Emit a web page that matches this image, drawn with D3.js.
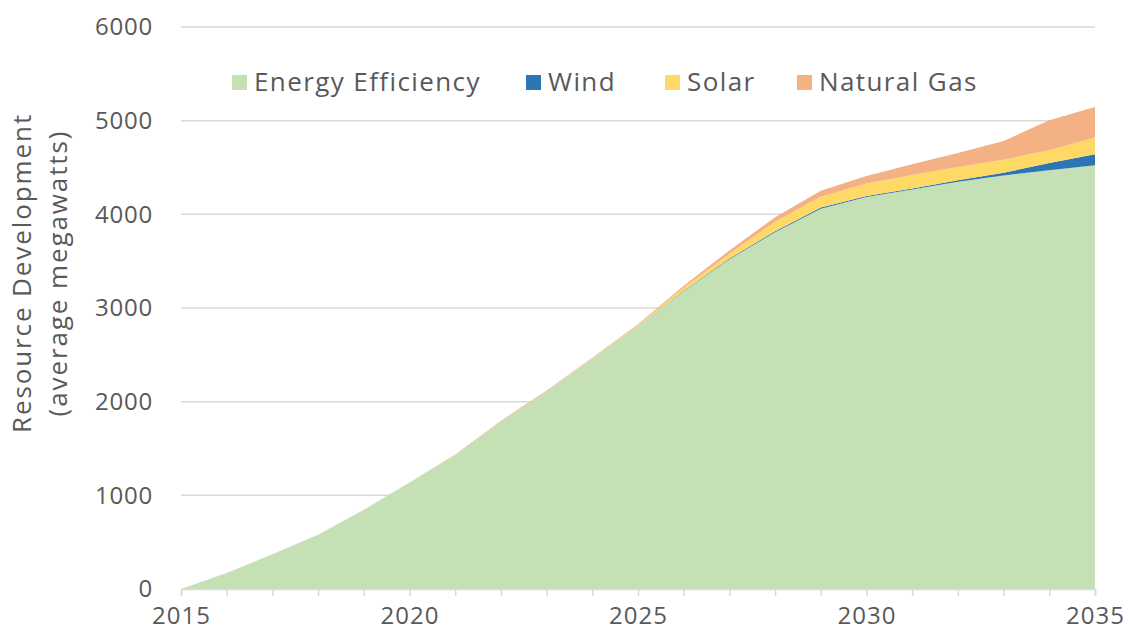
<!DOCTYPE html>
<html>
<head>
<meta charset="utf-8">
<script src="https://cdn.jsdelivr.net/npm/d3@7"></script>
<style>
  body { margin: 0; background: #fff; }
  svg text { font-family: "Open Sans", sans-serif; fill: #595959; }
</style>
</head>
<body>
<svg id="chart" width="1128" height="637"></svg>
<script>
// values (average MW, cumulative)
var years = d3.range(2015, 2036);
var efficiency = [0, 171, 370, 578, 845, 1137, 1432, 1790, 2110, 2458, 2810, 3180, 3520, 3810, 4060, 4185, 4265, 4348, 4415, 4470, 4525];
var wind       = [0, 0, 0, 0, 0, 0, 0, 0, 0, 0, 0, 3, 8, 10, 12, 10, 10, 16, 29, 78, 117];
var solar      = [0, 0, 0, 0, 0, 0, 0, 0, 0, 2, 5, 35, 50, 100, 115, 135, 145, 142, 140, 137, 178];
var gas        = [0, 0, 0, 0, 0, 0, 3, 6, 8, 10, 12, 20, 36, 50, 64, 78, 115, 150, 199, 320, 327];

var seriesNames = ["Energy Efficiency", "Wind", "Solar", "Natural Gas"];
var colors = ["#c5e0b4", "#2e75b6", "#ffd966", "#f4b183"];
var yTicks = [0, 1000, 2000, 3000, 4000, 5000, 6000];
var xLabels = [2015, 2020, 2025, 2030, 2035];

var table = years.map(function(y, i) {
  return { year: y, "Energy Efficiency": efficiency[i], "Wind": wind[i], "Solar": solar[i], "Natural Gas": gas[i] };
});

var svg = d3.select("#chart");
var x = d3.scaleLinear().domain([2015, 2035]).range([181, 1095]);
var y = d3.scaleLinear().domain([0, 6000]).range([589, 27]);
var color = d3.scaleOrdinal().domain(seriesNames).range(colors);

// gridlines
svg.append("g").selectAll("line")
  .data(yTicks.slice(1))
  .enter().append("line")
  .attr("x1", x(2015)).attr("x2", x(2035))
  .attr("y1", d => y(d)).attr("y2", d => y(d))
  .attr("stroke", "#d9d9d9").attr("stroke-width", 1.5);

// stacked areas
var stack = d3.stack().keys(seriesNames);
var area = d3.area()
  .x(d => x(d.data.year))
  .y0(d => y(d[0]))
  .y1(d => y(d[1]));

svg.append("g").selectAll("path")
  .data(stack(table))
  .enter().append("path")
  .attr("d", area)
  .attr("fill", d => color(d.key));

// x axis
var xAxis = d3.axisBottom(x).tickValues(years).tickSize(7).tickFormat(d => xLabels.indexOf(d) >= 0 ? d : "");
var gx = svg.append("g").attr("transform", "translate(0," + y(0) + ")").call(xAxis);
gx.select(".domain").attr("stroke", "#d9d9d9").attr("stroke-width", 1.5);
gx.selectAll(".tick line").attr("stroke", "#d9d9d9").attr("stroke-width", 1.5);
gx.selectAll(".tick text").attr("dy", "1.05em").style("font-size", "24px")
  .style("letter-spacing", "1px").style("fill", "#595959").attr("font-family", null);

// y axis labels
svg.append("g").selectAll("text")
  .data(yTicks)
  .enter().append("text")
  .attr("x", 153).attr("y", d => y(d))
  .attr("dy", "0.35em")
  .attr("text-anchor", "end")
  .style("font-size", "24px")
  .style("letter-spacing", "0.8px")
  .text(d => d);

// y title
var yt = svg.append("text")
  .attr("transform", "translate(0,273) rotate(-90)")
  .attr("text-anchor", "middle")
  .style("font-size", "26px")
  .style("letter-spacing", "1.9px");
yt.append("tspan").attr("x", 0).attr("y", 31).text("Resource Development");
yt.append("tspan").attr("x", 0).attr("y", 67).text("(average megawatts)");

// legend
var legendX = [232, 526, 665, 797];
var leg = svg.append("g").selectAll("g")
  .data(seriesNames)
  .enter().append("g")
  .attr("transform", (d, i) => "translate(" + legendX[i] + ",82)");
leg.append("rect").attr("x", 0).attr("y", -7).attr("width", 15).attr("height", 15).attr("fill", d => color(d));
leg.append("text").attr("x", 22).attr("dy", "0.35em").style("font-size", "26px")
  .style("letter-spacing", "1.4px").text(d => d);
</script>
</body>
</html>
